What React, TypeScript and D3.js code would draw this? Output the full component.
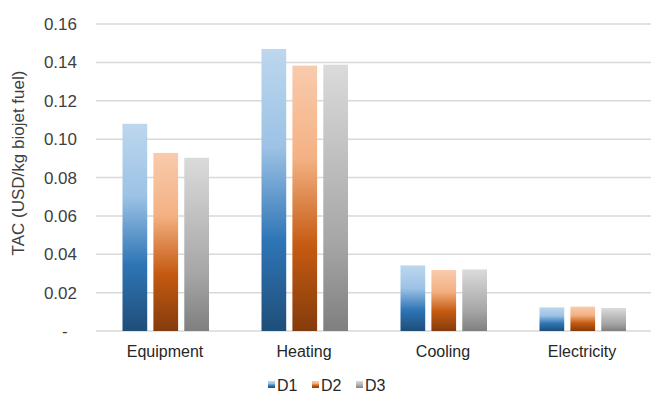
import React from "react";
import * as d3 from "d3";

const categories = ["Equipment", "Heating", "Cooling", "Electricity"];
const seriesNames = ["D1", "D2", "D3"];
const d1Values = [0.108, 0.147, 0.0342, 0.0123];
const d2Values = [0.0928, 0.1383, 0.0318, 0.0127];
const d3Values = [0.0903, 0.1388, 0.0321, 0.012];
const yTicks = [0, 0.02, 0.04, 0.06, 0.08, 0.1, 0.12, 0.14, 0.16];
const yTitle = "TAC (USD/kg biojet fuel)";

const seriesValues = [d1Values, d2Values, d3Values];

// gradient stops per series: light top, saturated middle, dark bottom
const gradientStops = [
  [
    ["0", "#bdd7ee"],
    ["0.35", "#9cc2e5"],
    ["0.68", "#2e75b6"],
    ["1", "#1f4e79"],
  ],
  [
    ["0", "#f8cbad"],
    ["0.35", "#f4b183"],
    ["0.68", "#c55a11"],
    ["1", "#843c0c"],
  ],
  [
    ["0", "#dbdbdb"],
    ["0.68", "#a5a5a5"],
    ["1", "#7f7f7f"],
  ],
];

const W = 651;
const H = 394;
const FONT = "'Liberation Sans', Arial, sans-serif";

export default function App() {
  const plotLeft = 96;
  const plotRight = 652;
  const y = d3.scaleLinear().domain([0, 0.16]).range([331, 24]);
  const x0 = d3.scaleBand<string>().domain(categories).range([plotLeft, plotRight]).padding(0);
  const x1 = d3
    .scaleBand<string>()
    .domain(seriesNames)
    .range([26.5, x0.bandwidth() - 26])
    .paddingInner(0.2)
    .paddingOuter(0);

  const fmt = (v: number) => (v === 0 ? "-\u00A0\u00A0" : d3.format(".2f")(v));

  const legendX = d3.scaleBand<string>().domain(seriesNames).range([268, 400]);

  return (
    <svg
      width={W}
      height={H}
      style={{ position: "absolute", left: 0, top: 0, background: "#fff" }}
      fontFamily={FONT}
    >
      <defs>
        {gradientStops.map((stops, i) => (
          <linearGradient key={i} id={`grad${i}`} x1="0" y1="0" x2="0" y2="1">
            {stops.map(([o, c]) => (
              <stop key={o} offset={o} stopColor={c} />
            ))}
          </linearGradient>
        ))}
      </defs>

      {/* horizontal gridlines */}
      {yTicks.map((t) => (
        <line
          key={t}
          x1={plotLeft}
          x2={W}
          y1={y(t)}
          y2={y(t)}
          stroke="#d9d9d9"
          strokeWidth={1.5}
        />
      ))}

      {/* y tick labels */}
      {yTicks.map((t) => (
        <text
          key={t}
          x={77}
          y={y(t)}
          dy="0.36em"
          textAnchor="end"
          fontSize={17}
          fill="#404040"
        >
          {fmt(t)}
        </text>
      ))}

      {/* y axis title */}
      <text
        transform={`translate(24,${163}) rotate(-90)`}
        textAnchor="middle"
        fontSize={17}
        fill="#404040"
      >
        {yTitle}
      </text>

      {/* bars */}
      {categories.map((c, ci) => (
        <g key={c} transform={`translate(${x0(c)},0)`}>
          {seriesNames.map((s, si) => {
            const v = seriesValues[si][ci];
            return (
              <rect
                key={s}
                x={x1(s)}
                y={y(v)}
                width={x1.bandwidth()}
                height={y(0) - y(v)}
                fill={`url(#grad${si})`}
              />
            );
          })}
        </g>
      ))}

      {/* category labels */}
      {categories.map((c) => (
        <text
          key={c}
          x={(x0(c) as number) + x0.bandwidth() / 2 - 0.5}
          y={357}
          textAnchor="middle"
          fontSize={16}
          fill="#262626"
        >
          {c}
        </text>
      ))}

      {/* legend */}
      {seriesNames.map((s, si) => (
        <g key={s} transform={`translate(${legendX(s)},0)`}>
          <rect x={0} y={381} width={7} height={7} fill={`url(#grad${si})`} />
          <text x={9} y={391} fontSize={16} fill="#262626">
            {s}
          </text>
        </g>
      ))}
    </svg>
  );
}
